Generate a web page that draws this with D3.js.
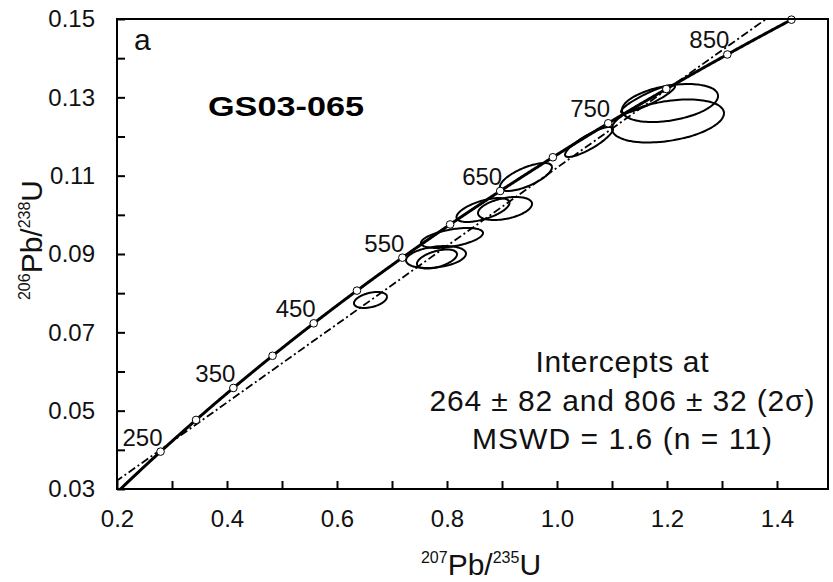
<!DOCTYPE html>
<html>
<head>
<meta charset="utf-8">
<script src="https://cdn.jsdelivr.net/npm/d3@7"></script>
<style>
  html, body { margin: 0; padding: 0; background: #fff; }
  svg { display: block; font-family: "Liberation Sans", Arial, sans-serif; }
</style>
</head>
<body>
<svg id="chart" width="833" height="582"></svg>
<script>
// U–Pb decay constants (per year)
const lambda238 = 1.55125e-10;
const lambda235 = 9.8485e-10;

// Concordia age markers (Ma) and the ones that carry a label
const markerAgesMa = [250, 300, 350, 400, 450, 500, 550, 600, 650, 700, 750, 800, 850, 900];
const labelledAgesMa = [250, 350, 450, 550, 650, 750, 850];

// Discordia intercepts (Ma)
const lowerInterceptMa = 264;
const upperInterceptMa = 806;

// Analyses: 207Pb/235U, 2σ, 206Pb/238U, 2σ, error correlation
const ratio207_235 = [0.6609, 0.7818, 0.7800, 0.8091, 0.8655, 0.9055, 0.9436, 1.0582, 1.1655, 1.2055, 1.2018];
const err207_235   = [0.0300, 0.0364, 0.0545, 0.0564, 0.0482, 0.0491, 0.0473, 0.0436, 0.0491, 0.0873, 0.1018];
const ratio206_238 = [0.07826, 0.08872, 0.08923, 0.09409, 0.10123, 0.10162, 0.10966, 0.11860, 0.12957, 0.12855, 0.12396];
const err206_238   = [0.00204, 0.00243, 0.00281, 0.00255, 0.00306, 0.00294, 0.00357, 0.00383, 0.00357, 0.00485, 0.00549];
const errRho       = [0.40, 0.50, 0.30, 0.50, 0.60, 0.40, 0.70, 0.85, 0.90, 0.37, 0.36];

// Axis ticks
const xMajorTicks = [0.2, 0.4, 0.6, 0.8, 1.0, 1.2, 1.4];
const xMinorTicks = [0.3, 0.5, 0.7, 0.9, 1.1, 1.3];
const yMajorTicks = [0.03, 0.05, 0.07, 0.09, 0.11, 0.13, 0.15];
const yMinorTicks = [0.04, 0.06, 0.08, 0.10, 0.12, 0.14];

const sampleName = "GS03-065";
const panelLetter = "a";
const resultLines = ["Intercepts at", "264 ± 82 and 806 ± 32 (2σ)", "MSWD = 1.6 (n = 11)"];

// ---- layout ----
const plotLeft = 117, plotRight = 828, plotTop = 19, plotBottom = 489;

const x = d3.scaleLinear().domain([0.2, 0.2 + (plotRight - plotLeft) / 550]).range([plotLeft, plotRight]);
const y = d3.scaleLinear().domain([0.03, 0.15]).range([plotBottom, plotTop]);

const svg = d3.select("#chart");

svg.append("defs").append("clipPath").attr("id", "plotClip")
  .append("rect").attr("x", plotLeft).attr("y", plotTop)
  .attr("width", plotRight - plotLeft).attr("height", plotBottom - plotTop);

const concordia = t => ({
  x: Math.exp(lambda235 * t * 1e6) - 1,
  y: Math.exp(lambda238 * t * 1e6) - 1
});

const plot = svg.append("g").attr("clip-path", "url(#plotClip)");

// Discordia through the two intercepts
const p1 = concordia(lowerInterceptMa), p2 = concordia(upperInterceptMa);
const slope = (p2.y - p1.y) / (p2.x - p1.x);
const xa = 0.15, xb = 1.6;
plot.append("line")
  .attr("x1", x(xa)).attr("y1", y(p1.y + slope * (xa - p1.x)))
  .attr("x2", x(xb)).attr("y2", y(p1.y + slope * (xb - p1.x)))
  .attr("stroke", "#000").attr("stroke-width", 1.8)
  .attr("stroke-dasharray", "8,3,2,3");

// Concordia curve
const curveAges = d3.range(180, 900.5, 1);
plot.append("path")
  .datum(curveAges.map(concordia))
  .attr("d", d3.line().x(d => x(d.x)).y(d => y(d.y)))
  .attr("fill", "none").attr("stroke", "#000").attr("stroke-width", 3);

// Error ellipses
const ellipsePath = i => {
  const cx = ratio207_235[i], sx = err207_235[i];
  const cy = ratio206_238[i], sy = err206_238[i], r = errRho[i];
  const k = Math.sqrt(1 - r * r);
  const pts = d3.range(0, 360, 3).map(a => {
    const th = a * Math.PI / 180;
    return [x(cx + sx * Math.cos(th)), y(cy + sy * (r * Math.cos(th) + k * Math.sin(th)))];
  });
  return d3.line().curve(d3.curveCardinalClosed)(pts);
};
plot.selectAll("path.ell")
  .data(d3.range(ratio207_235.length))
  .join("path").attr("class", "ell")
  .attr("d", ellipsePath)
  .attr("fill", "none").attr("stroke", "#000").attr("stroke-width", 2);

// Age markers
const markers = markerAgesMa.map(t => ({ t, ...concordia(t) }));
svg.append("g").selectAll("circle")
  .data(markers).join("circle")
  .attr("cx", d => x(d.x)).attr("cy", d => y(d.y)).attr("r", 3.8)
  .attr("fill", "#fff").attr("stroke", "#000").attr("stroke-width", 1);

svg.append("g").selectAll("text")
  .data(markers.filter(d => labelledAgesMa.includes(d.t))).join("text")
  .attr("x", d => x(d.x) + 2).attr("y", d => y(d.y) - 6)
  .attr("text-anchor", "end").attr("font-size", 24).attr("fill", "#111")
  .text(d => d.t);

// Axes (ticks point inward)
const xAxis = d3.axisBottom(x)
  .tickValues([...xMajorTicks, ...xMinorTicks])
  .tickFormat(d => xMajorTicks.includes(d) ? d3.format(".1f")(d) : "")
  .tickSizeInner(-8).tickSizeOuter(0).tickPadding(21);
const gx = svg.append("g").attr("transform", `translate(0,${plotBottom})`).call(xAxis);

const yAxis = d3.axisLeft(y)
  .tickValues([...yMajorTicks, ...yMinorTicks])
  .tickFormat(d => yMajorTicks.includes(d) ? d3.format(".2f")(d) : "")
  .tickSizeInner(-8).tickSizeOuter(0).tickPadding(22);
const gy = svg.append("g").attr("transform", `translate(${plotLeft},0)`).call(yAxis);

[gx, gy].forEach(g => {
  g.select(".domain").remove();
  g.selectAll(".tick line").attr("stroke", "#000").attr("stroke-width", 2);
  g.selectAll(".tick text").attr("font-size", 24).attr("fill", "#111")
    .attr("font-family", "Liberation Sans, Arial, sans-serif");
});

// Frame
svg.append("rect")
  .attr("x", plotLeft).attr("y", plotTop)
  .attr("width", plotRight - plotLeft).attr("height", plotBottom - plotTop)
  .attr("fill", "none").attr("stroke", "#000").attr("stroke-width", 2);

// Axis titles with isotope superscripts
const title = (g, mass1, mass2, el2) => {
  g.append("tspan").attr("font-size", 16).attr("dy", -12).text(mass1);
  g.append("tspan").attr("font-size", 30).attr("dy", 12).text("Pb/");
  g.append("tspan").attr("font-size", 16).attr("dy", -12).text(mass2);
  g.append("tspan").attr("font-size", 30).attr("dy", 12).text(el2);
};
title(svg.append("text").attr("x", 481).attr("y", 575).attr("text-anchor", "middle").attr("fill", "#111"),
  "207", "235", "U");
title(svg.append("text").attr("transform", "translate(42,240) rotate(-90)")
  .attr("text-anchor", "middle").attr("fill", "#111"), "206", "238", "U");

// Panel letter and sample name
svg.append("text").attr("x", 134).attr("y", 50).attr("font-size", 30).attr("fill", "#111").text(panelLetter);
svg.append("text").attr("x", 208).attr("y", 115.5).attr("font-size", 27).attr("font-weight", "bold")
  .attr("textLength", 156).attr("lengthAdjust", "spacingAndGlyphs").attr("fill", "#000").text(sampleName);

// Regression result
const resultWidths = [173, 385, 300];
const resultBaselines = [372, 411, 449];
svg.append("g").selectAll("text")
  .data(resultLines).join("text")
  .attr("x", (d, i) => 622 - resultWidths[i] / 2)
  .attr("y", (d, i) => resultBaselines[i])
  .attr("font-size", 30).attr("fill", "#111")
  .attr("textLength", (d, i) => resultWidths[i]).attr("lengthAdjust", "spacing")
  .text(d => d);
</script>
</body>
</html>
